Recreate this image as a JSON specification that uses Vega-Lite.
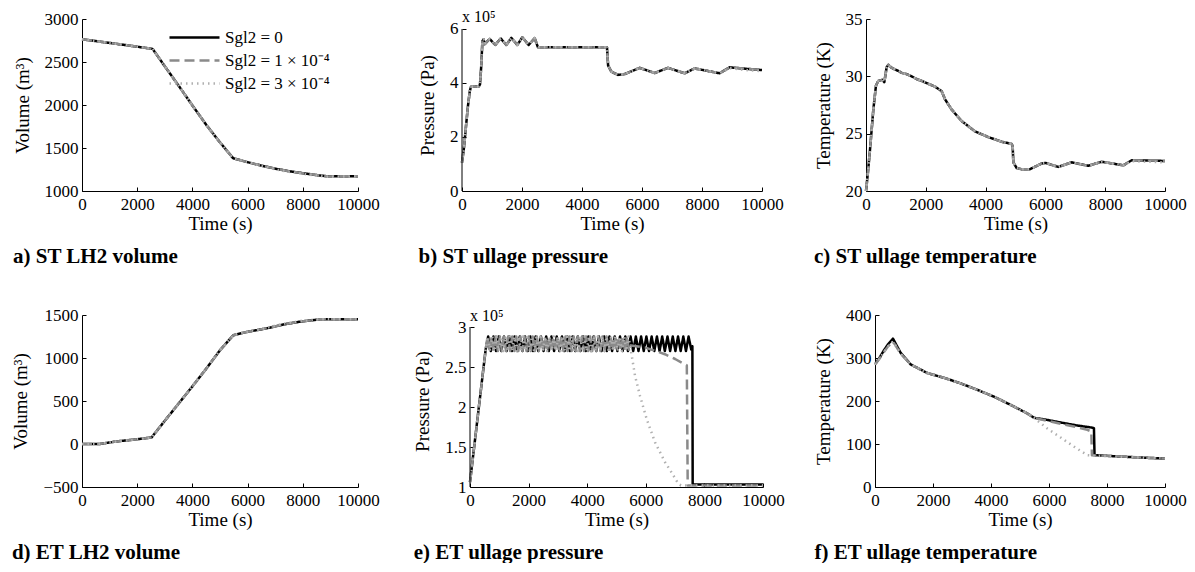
{
"$schema": "https://vega.github.io/schema/vega-lite/v6.json",
"padding": {"left": 11, "top": 8, "right": 0, "bottom": 0},
"background": "white",
"config": {
  "font": "Liberation Serif, Times New Roman, serif",
  "view": {"stroke": null},
  "axis": {"labelFont": "Liberation Serif, Times New Roman, serif", "labelFontSize": 17, "labelColor": "black", "titleFont": "Liberation Serif, Times New Roman, serif", "titleFontSize": 19, "titleFontWeight": "normal", "titleColor": "black", "domainColor": "black", "tickColor": "black", "tickSize": -4, "grid": false, "labelFlush": false, "labelOverlap": false, "labelBound": false},
  "axisX": {"labelPadding": 9, "titlePadding": 2},
  "axisY": {"labelPadding": 8, "titlePadding": 12},
  "title": {"orient": "bottom", "anchor": "start", "frame": "bounds", "font": "Liberation Serif, Times New Roman, serif", "fontSize": 21, "fontWeight": "bold", "color": "black", "offset": 13},
  "legend": {"labelFont": "Liberation Serif, Times New Roman, serif", "labelFontSize": 17, "labelColor": "black", "symbolType": "stroke", "symbolSize": 2500, "rowPadding": 0, "clipHeight": 23, "labelOffset": 4},
  "text": {"font": "Liberation Serif, Times New Roman, serif"},
  "line": {"strokeCap": "butt", "strokeJoin": "round"}
},
"datasets": {
"a": [
{"c":"0","t":0,"v":2765},{"c":"0","t":500,"v":2743},{"c":"0","t":1000,"v":2722},{"c":"0","t":1500,"v":2700},{"c":"0","t":2000,"v":2678},{"c":"0","t":2560,"v":2652},{"c":"0","t":3000,"v":2450},{"c":"0","t":3500,"v":2225},{"c":"0","t":4000,"v":1995},{"c":"0","t":4500,"v":1770},{"c":"0","t":5000,"v":1565},{"c":"0","t":5480,"v":1380},{"c":"0","t":6000,"v":1335},{"c":"0","t":6500,"v":1295},{"c":"0","t":7000,"v":1260},{"c":"0","t":7500,"v":1230},{"c":"0","t":8000,"v":1207},{"c":"0","t":8500,"v":1185},{"c":"0","t":8900,"v":1170},{"c":"0","t":9500,"v":1172},{"c":"0","t":10000,"v":1172},
{"c":"1","t":0,"v":2765},{"c":"1","t":500,"v":2743},{"c":"1","t":1000,"v":2722},{"c":"1","t":1500,"v":2700},{"c":"1","t":2000,"v":2678},{"c":"1","t":2560,"v":2652},{"c":"1","t":3000,"v":2450},{"c":"1","t":3500,"v":2225},{"c":"1","t":4000,"v":1995},{"c":"1","t":4500,"v":1770},{"c":"1","t":5000,"v":1565},{"c":"1","t":5480,"v":1380},{"c":"1","t":6000,"v":1335},{"c":"1","t":6500,"v":1295},{"c":"1","t":7000,"v":1260},{"c":"1","t":7500,"v":1230},{"c":"1","t":8000,"v":1207},{"c":"1","t":8500,"v":1185},{"c":"1","t":8900,"v":1170},{"c":"1","t":9500,"v":1172},{"c":"1","t":10000,"v":1172},
{"c":"3","t":0,"v":2765},{"c":"3","t":500,"v":2743},{"c":"3","t":1000,"v":2722},{"c":"3","t":1500,"v":2700},{"c":"3","t":2000,"v":2678},{"c":"3","t":2560,"v":2652},{"c":"3","t":3000,"v":2450},{"c":"3","t":3500,"v":2225},{"c":"3","t":4000,"v":1995},{"c":"3","t":4500,"v":1770},{"c":"3","t":5000,"v":1565},{"c":"3","t":5480,"v":1380},{"c":"3","t":6000,"v":1335},{"c":"3","t":6500,"v":1293},{"c":"3","t":7000,"v":1252},{"c":"3","t":7500,"v":1223},{"c":"3","t":8000,"v":1200},{"c":"3","t":8500,"v":1179},{"c":"3","t":8900,"v":1166},{"c":"3","t":9500,"v":1168},{"c":"3","t":10000,"v":1170}
],
"b": [
{"c":"0","t":0,"v":1.05},{"c":"0","t":67,"v":1.62},{"c":"0","t":133,"v":2.4},{"c":"0","t":200,"v":3.16},{"c":"0","t":260,"v":3.7},{"c":"0","t":300,"v":3.86},{"c":"0","t":560,"v":3.87},{"c":"0","t":600,"v":3.95},{"c":"0","t":640,"v":4.6},{"c":"0","t":680,"v":5.55},{"c":"0","t":720,"v":5.62},{"c":"0","t":756,"v":5.44},{"c":"0","t":922,"v":5.63},{"c":"0","t":1111,"v":5.41},{"c":"0","t":1289,"v":5.65},{"c":"0","t":1478,"v":5.41},{"c":"0","t":1644,"v":5.67},{"c":"0","t":1844,"v":5.41},{"c":"0","t":2011,"v":5.69},{"c":"0","t":2222,"v":5.41},{"c":"0","t":2422,"v":5.66},{"c":"0","t":2533,"v":5.32},{"c":"0","t":4833,"v":5.32},{"c":"0","t":4870,"v":4.65},{"c":"0","t":4978,"v":4.42},{"c":"0","t":5200,"v":4.3},{"c":"0","t":5422,"v":4.33},{"c":"0","t":5922,"v":4.56},{"c":"0","t":6422,"v":4.37},{"c":"0","t":6867,"v":4.56},{"c":"0","t":7422,"v":4.36},{"c":"0","t":7756,"v":4.54},{"c":"0","t":8589,"v":4.36},{"c":"0","t":8922,"v":4.58},{"c":"0","t":9533,"v":4.52},{"c":"0","t":10000,"v":4.48},
{"c":"1","t":0,"v":1.05},{"c":"1","t":67,"v":1.62},{"c":"1","t":133,"v":2.4},{"c":"1","t":200,"v":3.16},{"c":"1","t":260,"v":3.7},{"c":"1","t":300,"v":3.86},{"c":"1","t":560,"v":3.87},{"c":"1","t":600,"v":3.95},{"c":"1","t":640,"v":4.6},{"c":"1","t":680,"v":5.55},{"c":"1","t":720,"v":5.62},{"c":"1","t":756,"v":5.44},{"c":"1","t":922,"v":5.63},{"c":"1","t":1111,"v":5.41},{"c":"1","t":1289,"v":5.65},{"c":"1","t":1478,"v":5.41},{"c":"1","t":1644,"v":5.67},{"c":"1","t":1844,"v":5.41},{"c":"1","t":2011,"v":5.69},{"c":"1","t":2222,"v":5.41},{"c":"1","t":2422,"v":5.66},{"c":"1","t":2533,"v":5.32},{"c":"1","t":4833,"v":5.32},{"c":"1","t":4870,"v":4.65},{"c":"1","t":4978,"v":4.42},{"c":"1","t":5200,"v":4.3},{"c":"1","t":5422,"v":4.33},{"c":"1","t":5922,"v":4.56},{"c":"1","t":6422,"v":4.37},{"c":"1","t":6867,"v":4.56},{"c":"1","t":7422,"v":4.36},{"c":"1","t":7756,"v":4.54},{"c":"1","t":8589,"v":4.36},{"c":"1","t":8922,"v":4.58},{"c":"1","t":9533,"v":4.52},{"c":"1","t":10000,"v":4.48},
{"c":"3","t":0,"v":1.05},{"c":"3","t":67,"v":1.62},{"c":"3","t":133,"v":2.4},{"c":"3","t":200,"v":3.16},{"c":"3","t":260,"v":3.7},{"c":"3","t":300,"v":3.86},{"c":"3","t":560,"v":3.87},{"c":"3","t":600,"v":3.95},{"c":"3","t":640,"v":4.6},{"c":"3","t":680,"v":5.55},{"c":"3","t":720,"v":5.62},{"c":"3","t":756,"v":5.44},{"c":"3","t":922,"v":5.63},{"c":"3","t":1111,"v":5.41},{"c":"3","t":1289,"v":5.65},{"c":"3","t":1478,"v":5.41},{"c":"3","t":1644,"v":5.67},{"c":"3","t":1844,"v":5.41},{"c":"3","t":2011,"v":5.69},{"c":"3","t":2222,"v":5.41},{"c":"3","t":2422,"v":5.66},{"c":"3","t":2533,"v":5.32},{"c":"3","t":4833,"v":5.32},{"c":"3","t":4870,"v":4.65},{"c":"3","t":4978,"v":4.42},{"c":"3","t":5200,"v":4.3},{"c":"3","t":5422,"v":4.33},{"c":"3","t":5922,"v":4.56},{"c":"3","t":6422,"v":4.37},{"c":"3","t":6867,"v":4.56},{"c":"3","t":7422,"v":4.36},{"c":"3","t":7756,"v":4.54},{"c":"3","t":8589,"v":4.36},{"c":"3","t":8922,"v":4.55},{"c":"3","t":9533,"v":4.47},{"c":"3","t":10000,"v":4.44}
],
"c": [
{"c":"0","t":0,"v":20.0},{"c":"0","t":60,"v":21.5},{"c":"0","t":134,"v":23.6},{"c":"0","t":245,"v":27.1},{"c":"0","t":334,"v":29.2},{"c":"0","t":412,"v":29.6},{"c":"0","t":546,"v":29.7},{"c":"0","t":613,"v":29.5},{"c":"0","t":691,"v":30.8},{"c":"0","t":747,"v":31.0},{"c":"0","t":850,"v":30.75},{"c":"0","t":970,"v":30.6},{"c":"0","t":1100,"v":30.45},{"c":"0","t":1193,"v":30.3},{"c":"0","t":1350,"v":30.2},{"c":"0","t":1527,"v":30.0},{"c":"0","t":1700,"v":29.75},{"c":"0","t":1862,"v":29.6},{"c":"0","t":2085,"v":29.35},{"c":"0","t":2308,"v":29.1},{"c":"0","t":2531,"v":28.7},{"c":"0","t":2642,"v":28.0},{"c":"0","t":2865,"v":27.1},{"c":"0","t":3200,"v":26.1},{"c":"0","t":3645,"v":25.2},{"c":"0","t":4091,"v":24.7},{"c":"0","t":4537,"v":24.3},{"c":"0","t":4872,"v":24.1},{"c":"0","t":4905,"v":23.9},{"c":"0","t":4928,"v":22.5},{"c":"0","t":5040,"v":22.0},{"c":"0","t":5206,"v":21.9},{"c":"0","t":5485,"v":21.9},{"c":"0","t":5875,"v":22.4},{"c":"0","t":6000,"v":22.45},{"c":"0","t":6430,"v":22.1},{"c":"0","t":6878,"v":22.5},{"c":"0","t":7436,"v":22.2},{"c":"0","t":7880,"v":22.55},{"c":"0","t":8606,"v":22.24},{"c":"0","t":8885,"v":22.68},{"c":"0","t":10000,"v":22.62},
{"c":"1","t":0,"v":20.0},{"c":"1","t":60,"v":21.5},{"c":"1","t":134,"v":23.6},{"c":"1","t":245,"v":27.1},{"c":"1","t":334,"v":29.2},{"c":"1","t":412,"v":29.6},{"c":"1","t":546,"v":29.7},{"c":"1","t":613,"v":29.5},{"c":"1","t":691,"v":30.8},{"c":"1","t":747,"v":31.0},{"c":"1","t":850,"v":30.75},{"c":"1","t":970,"v":30.6},{"c":"1","t":1100,"v":30.45},{"c":"1","t":1193,"v":30.3},{"c":"1","t":1350,"v":30.2},{"c":"1","t":1527,"v":30.0},{"c":"1","t":1700,"v":29.75},{"c":"1","t":1862,"v":29.6},{"c":"1","t":2085,"v":29.35},{"c":"1","t":2308,"v":29.1},{"c":"1","t":2531,"v":28.7},{"c":"1","t":2642,"v":28.0},{"c":"1","t":2865,"v":27.1},{"c":"1","t":3200,"v":26.1},{"c":"1","t":3645,"v":25.2},{"c":"1","t":4091,"v":24.7},{"c":"1","t":4537,"v":24.3},{"c":"1","t":4872,"v":24.1},{"c":"1","t":4905,"v":23.9},{"c":"1","t":4928,"v":22.5},{"c":"1","t":5040,"v":22.0},{"c":"1","t":5206,"v":21.9},{"c":"1","t":5485,"v":21.9},{"c":"1","t":5875,"v":22.4},{"c":"1","t":6000,"v":22.45},{"c":"1","t":6430,"v":22.1},{"c":"1","t":6878,"v":22.5},{"c":"1","t":7436,"v":22.2},{"c":"1","t":7880,"v":22.55},{"c":"1","t":8606,"v":22.24},{"c":"1","t":8885,"v":22.68},{"c":"1","t":10000,"v":22.62},
{"c":"3","t":0,"v":20.0},{"c":"3","t":60,"v":21.5},{"c":"3","t":134,"v":23.6},{"c":"3","t":245,"v":27.1},{"c":"3","t":334,"v":29.2},{"c":"3","t":412,"v":29.6},{"c":"3","t":546,"v":29.7},{"c":"3","t":613,"v":29.5},{"c":"3","t":691,"v":30.8},{"c":"3","t":747,"v":31.0},{"c":"3","t":850,"v":30.75},{"c":"3","t":970,"v":30.6},{"c":"3","t":1100,"v":30.45},{"c":"3","t":1193,"v":30.3},{"c":"3","t":1350,"v":30.2},{"c":"3","t":1527,"v":30.0},{"c":"3","t":1700,"v":29.75},{"c":"3","t":1862,"v":29.6},{"c":"3","t":2085,"v":29.35},{"c":"3","t":2308,"v":29.1},{"c":"3","t":2531,"v":28.7},{"c":"3","t":2642,"v":28.0},{"c":"3","t":2865,"v":27.1},{"c":"3","t":3200,"v":26.1},{"c":"3","t":3645,"v":25.2},{"c":"3","t":4091,"v":24.7},{"c":"3","t":4537,"v":24.3},{"c":"3","t":4872,"v":24.1},{"c":"3","t":4905,"v":23.9},{"c":"3","t":4928,"v":22.5},{"c":"3","t":5040,"v":22.0},{"c":"3","t":5206,"v":21.9},{"c":"3","t":5485,"v":21.9},{"c":"3","t":5875,"v":22.4},{"c":"3","t":6000,"v":22.45},{"c":"3","t":6430,"v":22.1},{"c":"3","t":6878,"v":22.5},{"c":"3","t":7436,"v":22.2},{"c":"3","t":7880,"v":22.55},{"c":"3","t":8606,"v":22.24},{"c":"3","t":8885,"v":22.6},{"c":"3","t":10000,"v":22.5}
],
"d": [
{"c":"0","t":0,"v":0},{"c":"0","t":640,"v":0},{"c":"0","t":1250,"v":30},{"c":"0","t":1850,"v":50},{"c":"0","t":2520,"v":76},{"c":"0","t":3000,"v":270},{"c":"0","t":3500,"v":470},{"c":"0","t":4000,"v":670},{"c":"0","t":4500,"v":875},{"c":"0","t":5000,"v":1090},{"c":"0","t":5484,"v":1265},{"c":"0","t":6000,"v":1305},{"c":"0","t":6695,"v":1345},{"c":"0","t":7300,"v":1390},{"c":"0","t":7906,"v":1423},{"c":"0","t":8632,"v":1450},{"c":"0","t":10000,"v":1450},
{"c":"1","t":0,"v":0},{"c":"1","t":640,"v":0},{"c":"1","t":1250,"v":30},{"c":"1","t":1850,"v":50},{"c":"1","t":2520,"v":76},{"c":"1","t":3000,"v":270},{"c":"1","t":3500,"v":470},{"c":"1","t":4000,"v":670},{"c":"1","t":4500,"v":875},{"c":"1","t":5000,"v":1090},{"c":"1","t":5484,"v":1265},{"c":"1","t":6000,"v":1305},{"c":"1","t":6695,"v":1345},{"c":"1","t":7300,"v":1390},{"c":"1","t":7906,"v":1423},{"c":"1","t":8632,"v":1450},{"c":"1","t":10000,"v":1450},
{"c":"3","t":0,"v":0},{"c":"3","t":640,"v":0},{"c":"3","t":1250,"v":30},{"c":"3","t":1850,"v":50},{"c":"3","t":2520,"v":76},{"c":"3","t":3000,"v":270},{"c":"3","t":3500,"v":470},{"c":"3","t":4000,"v":670},{"c":"3","t":4500,"v":875},{"c":"3","t":5000,"v":1090},{"c":"3","t":5484,"v":1265},{"c":"3","t":6000,"v":1308},{"c":"3","t":6695,"v":1352},{"c":"3","t":7300,"v":1398},{"c":"3","t":7906,"v":1430},{"c":"3","t":8632,"v":1452},{"c":"3","t":10000,"v":1452}
],
"e": [
{"c":"0","t":0,"v":1.06},{"c":"0","t":535,"v":2.72},{"c":"0","t":620,"v":2.88},{"c":"0","t":710,"v":2.70},{"c":"0","t":800,"v":2.88},{"c":"0","t":890,"v":2.70},{"c":"0","t":980,"v":2.88},{"c":"0","t":1070,"v":2.70},{"c":"0","t":1160,"v":2.88},{"c":"0","t":1250,"v":2.70},{"c":"0","t":1340,"v":2.88},{"c":"0","t":1430,"v":2.70},{"c":"0","t":1520,"v":2.88},{"c":"0","t":1610,"v":2.70},{"c":"0","t":1700,"v":2.88},{"c":"0","t":1790,"v":2.70},{"c":"0","t":1880,"v":2.88},{"c":"0","t":1970,"v":2.70},{"c":"0","t":2060,"v":2.88},{"c":"0","t":2150,"v":2.70},{"c":"0","t":2240,"v":2.88},{"c":"0","t":2330,"v":2.70},{"c":"0","t":2420,"v":2.88},{"c":"0","t":2510,"v":2.70},{"c":"0","t":2600,"v":2.88},{"c":"0","t":2690,"v":2.70},{"c":"0","t":2780,"v":2.88},{"c":"0","t":2870,"v":2.70},{"c":"0","t":2960,"v":2.88},{"c":"0","t":3050,"v":2.70},{"c":"0","t":3140,"v":2.88},{"c":"0","t":3230,"v":2.70},{"c":"0","t":3320,"v":2.88},{"c":"0","t":3410,"v":2.70},{"c":"0","t":3500,"v":2.88},{"c":"0","t":3590,"v":2.70},{"c":"0","t":3680,"v":2.88},{"c":"0","t":3770,"v":2.70},{"c":"0","t":3860,"v":2.88},{"c":"0","t":3950,"v":2.70},{"c":"0","t":4040,"v":2.88},{"c":"0","t":4130,"v":2.70},{"c":"0","t":4220,"v":2.88},{"c":"0","t":4310,"v":2.70},{"c":"0","t":4400,"v":2.88},{"c":"0","t":4490,"v":2.70},{"c":"0","t":4580,"v":2.88},{"c":"0","t":4670,"v":2.70},{"c":"0","t":4760,"v":2.88},{"c":"0","t":4850,"v":2.70},{"c":"0","t":4940,"v":2.88},{"c":"0","t":5030,"v":2.70},{"c":"0","t":5120,"v":2.88},{"c":"0","t":5210,"v":2.70},{"c":"0","t":5300,"v":2.88},{"c":"0","t":5390,"v":2.70},{"c":"0","t":5480,"v":2.88},{"c":"0","t":5570,"v":2.70},{"c":"0","t":5660,"v":2.88},{"c":"0","t":5750,"v":2.70},{"c":"0","t":5840,"v":2.88},{"c":"0","t":5930,"v":2.70},{"c":"0","t":6020,"v":2.88},{"c":"0","t":6110,"v":2.70},{"c":"0","t":6200,"v":2.88},{"c":"0","t":6290,"v":2.70},{"c":"0","t":6380,"v":2.88},{"c":"0","t":6470,"v":2.70},{"c":"0","t":6560,"v":2.88},{"c":"0","t":6650,"v":2.70},{"c":"0","t":6740,"v":2.88},{"c":"0","t":6830,"v":2.70},{"c":"0","t":6920,"v":2.88},{"c":"0","t":7010,"v":2.70},{"c":"0","t":7100,"v":2.88},{"c":"0","t":7190,"v":2.70},{"c":"0","t":7280,"v":2.88},{"c":"0","t":7370,"v":2.70},{"c":"0","t":7460,"v":2.88},{"c":"0","t":7550,"v":2.72},{"c":"0","t":7590,"v":2.76},{"c":"0","t":7600,"v":1.03},{"c":"0","t":10000,"v":1.03},
{"c":"1","t":0,"v":1.06},{"c":"1","t":535,"v":2.72},{"c":"1","t":600,"v":2.88},{"c":"1","t":670,"v":2.70},{"c":"1","t":740,"v":2.88},{"c":"1","t":810,"v":2.70},{"c":"1","t":880,"v":2.88},{"c":"1","t":950,"v":2.70},{"c":"1","t":1020,"v":2.88},{"c":"1","t":1090,"v":2.70},{"c":"1","t":1160,"v":2.88},{"c":"1","t":1230,"v":2.70},{"c":"1","t":1300,"v":2.88},{"c":"1","t":1370,"v":2.70},{"c":"1","t":1440,"v":2.88},{"c":"1","t":1510,"v":2.70},{"c":"1","t":1580,"v":2.88},{"c":"1","t":1650,"v":2.70},{"c":"1","t":1720,"v":2.88},{"c":"1","t":1790,"v":2.70},{"c":"1","t":1860,"v":2.88},{"c":"1","t":1930,"v":2.70},{"c":"1","t":2000,"v":2.88},{"c":"1","t":2070,"v":2.70},{"c":"1","t":2140,"v":2.88},{"c":"1","t":2210,"v":2.70},{"c":"1","t":2280,"v":2.88},{"c":"1","t":2350,"v":2.70},{"c":"1","t":2420,"v":2.88},{"c":"1","t":2490,"v":2.70},{"c":"1","t":2560,"v":2.88},{"c":"1","t":2630,"v":2.70},{"c":"1","t":2700,"v":2.88},{"c":"1","t":2770,"v":2.70},{"c":"1","t":2840,"v":2.88},{"c":"1","t":2910,"v":2.70},{"c":"1","t":2980,"v":2.88},{"c":"1","t":3050,"v":2.70},{"c":"1","t":3120,"v":2.88},{"c":"1","t":3190,"v":2.70},{"c":"1","t":3260,"v":2.88},{"c":"1","t":3330,"v":2.70},{"c":"1","t":3400,"v":2.88},{"c":"1","t":3470,"v":2.70},{"c":"1","t":3540,"v":2.88},{"c":"1","t":3610,"v":2.70},{"c":"1","t":3680,"v":2.88},{"c":"1","t":3750,"v":2.70},{"c":"1","t":3820,"v":2.88},{"c":"1","t":3890,"v":2.70},{"c":"1","t":3960,"v":2.88},{"c":"1","t":4030,"v":2.70},{"c":"1","t":4100,"v":2.88},{"c":"1","t":4170,"v":2.70},{"c":"1","t":4240,"v":2.88},{"c":"1","t":4310,"v":2.70},{"c":"1","t":4380,"v":2.88},{"c":"1","t":4450,"v":2.70},{"c":"1","t":4520,"v":2.88},{"c":"1","t":4590,"v":2.70},{"c":"1","t":4660,"v":2.88},{"c":"1","t":4730,"v":2.70},{"c":"1","t":4800,"v":2.88},{"c":"1","t":4870,"v":2.70},{"c":"1","t":4940,"v":2.88},{"c":"1","t":5010,"v":2.70},{"c":"1","t":5080,"v":2.88},{"c":"1","t":5150,"v":2.70},{"c":"1","t":5220,"v":2.88},{"c":"1","t":5290,"v":2.70},{"c":"1","t":5360,"v":2.88},{"c":"1","t":5430,"v":2.70},{"c":"1","t":5500,"v":2.77},{"c":"1","t":5970,"v":2.745},{"c":"1","t":6650,"v":2.66},{"c":"1","t":7000,"v":2.6},{"c":"1","t":7400,"v":2.52},{"c":"1","t":7430,"v":1.02},{"c":"1","t":10000,"v":1.02},
{"c":"3","t":0,"v":1.06},{"c":"3","t":535,"v":2.72},{"c":"3","t":610,"v":2.88},{"c":"3","t":685,"v":2.70},{"c":"3","t":760,"v":2.88},{"c":"3","t":835,"v":2.70},{"c":"3","t":910,"v":2.88},{"c":"3","t":985,"v":2.70},{"c":"3","t":1060,"v":2.88},{"c":"3","t":1135,"v":2.70},{"c":"3","t":1210,"v":2.88},{"c":"3","t":1285,"v":2.70},{"c":"3","t":1360,"v":2.88},{"c":"3","t":1435,"v":2.70},{"c":"3","t":1510,"v":2.88},{"c":"3","t":1585,"v":2.70},{"c":"3","t":1660,"v":2.88},{"c":"3","t":1735,"v":2.70},{"c":"3","t":1810,"v":2.88},{"c":"3","t":1885,"v":2.70},{"c":"3","t":1960,"v":2.88},{"c":"3","t":2035,"v":2.70},{"c":"3","t":2110,"v":2.88},{"c":"3","t":2185,"v":2.70},{"c":"3","t":2260,"v":2.88},{"c":"3","t":2335,"v":2.70},{"c":"3","t":2410,"v":2.88},{"c":"3","t":2485,"v":2.70},{"c":"3","t":2560,"v":2.88},{"c":"3","t":2635,"v":2.70},{"c":"3","t":2710,"v":2.88},{"c":"3","t":2785,"v":2.70},{"c":"3","t":2860,"v":2.88},{"c":"3","t":2935,"v":2.70},{"c":"3","t":3010,"v":2.88},{"c":"3","t":3085,"v":2.70},{"c":"3","t":3160,"v":2.88},{"c":"3","t":3235,"v":2.70},{"c":"3","t":3310,"v":2.88},{"c":"3","t":3385,"v":2.70},{"c":"3","t":3460,"v":2.88},{"c":"3","t":3535,"v":2.70},{"c":"3","t":3610,"v":2.88},{"c":"3","t":3685,"v":2.70},{"c":"3","t":3760,"v":2.88},{"c":"3","t":3835,"v":2.70},{"c":"3","t":3910,"v":2.88},{"c":"3","t":3985,"v":2.70},{"c":"3","t":4060,"v":2.88},{"c":"3","t":4135,"v":2.70},{"c":"3","t":4210,"v":2.88},{"c":"3","t":4285,"v":2.70},{"c":"3","t":4360,"v":2.88},{"c":"3","t":4435,"v":2.70},{"c":"3","t":4510,"v":2.88},{"c":"3","t":4585,"v":2.70},{"c":"3","t":4660,"v":2.88},{"c":"3","t":4735,"v":2.70},{"c":"3","t":4810,"v":2.88},{"c":"3","t":4885,"v":2.70},{"c":"3","t":4960,"v":2.88},{"c":"3","t":5035,"v":2.70},{"c":"3","t":5110,"v":2.88},{"c":"3","t":5185,"v":2.70},{"c":"3","t":5260,"v":2.88},{"c":"3","t":5335,"v":2.70},{"c":"3","t":5410,"v":2.88},{"c":"3","t":5484,"v":2.725},{"c":"3","t":5632,"v":2.39},{"c":"3","t":5802,"v":2.14},{"c":"3","t":6030,"v":1.85},{"c":"3","t":6314,"v":1.56},{"c":"3","t":6656,"v":1.31},{"c":"3","t":6883,"v":1.18},{"c":"3","t":7110,"v":1.04},{"c":"3","t":7200,"v":1.02},{"c":"3","t":10000,"v":1.02}
],
"f": [
{"c":"0","t":0,"v":285},{"c":"0","t":150,"v":300},{"c":"0","t":310,"v":318},{"c":"0","t":450,"v":332},{"c":"0","t":620,"v":345},{"c":"0","t":700,"v":335},{"c":"0","t":885,"v":312},{"c":"0","t":1230,"v":285},{"c":"0","t":1805,"v":265},{"c":"0","t":2379,"v":254},{"c":"0","t":2954,"v":241},{"c":"0","t":3529,"v":226},{"c":"0","t":4103,"v":210},{"c":"0","t":4678,"v":191},{"c":"0","t":5253,"v":171},{"c":"0","t":5483,"v":161},{"c":"0","t":5943,"v":156},{"c":"0","t":6402,"v":150},{"c":"0","t":6977,"v":143},{"c":"0","t":7494,"v":138},{"c":"0","t":7550,"v":137},{"c":"0","t":7570,"v":74},{"c":"0","t":8701,"v":70},{"c":"0","t":10000,"v":66},
{"c":"1","t":0,"v":285},{"c":"1","t":150,"v":298},{"c":"1","t":310,"v":314},{"c":"1","t":450,"v":327},{"c":"1","t":620,"v":338},{"c":"1","t":700,"v":330},{"c":"1","t":885,"v":310},{"c":"1","t":1230,"v":285},{"c":"1","t":1805,"v":265},{"c":"1","t":2379,"v":254},{"c":"1","t":2954,"v":241},{"c":"1","t":3529,"v":226},{"c":"1","t":4103,"v":210},{"c":"1","t":4678,"v":191},{"c":"1","t":5253,"v":171},{"c":"1","t":5483,"v":161},{"c":"1","t":5943,"v":154},{"c":"1","t":6402,"v":147},{"c":"1","t":6977,"v":139},{"c":"1","t":7322,"v":133},{"c":"1","t":7460,"v":129},{"c":"1","t":7480,"v":74},{"c":"1","t":8701,"v":70},{"c":"1","t":10000,"v":66},
{"c":"3","t":0,"v":285},{"c":"3","t":150,"v":298},{"c":"3","t":310,"v":314},{"c":"3","t":450,"v":327},{"c":"3","t":620,"v":338},{"c":"3","t":700,"v":330},{"c":"3","t":885,"v":310},{"c":"3","t":1230,"v":285},{"c":"3","t":1805,"v":265},{"c":"3","t":2379,"v":254},{"c":"3","t":2954,"v":241},{"c":"3","t":3529,"v":226},{"c":"3","t":4103,"v":210},{"c":"3","t":4678,"v":191},{"c":"3","t":5253,"v":171},{"c":"3","t":5483,"v":161},{"c":"3","t":5943,"v":136},{"c":"3","t":6402,"v":115},{"c":"3","t":6862,"v":94},{"c":"3","t":7322,"v":74},{"c":"3","t":7500,"v":73},{"c":"3","t":8701,"v":70},{"c":"3","t":10000,"v":66}
]
},
"vconcat": [
{"hconcat": [
 {"width": 276, "height": 172, "title": "a) ST LH2 volume", "data": {"name": "a"},
  "mark": "line",
  "encoding": {
   "x": {"field": "t", "type": "quantitative", "scale": {"domain": [0, 10000], "nice": false}, "axis": {"values": [0,2000,4000,6000,8000,10000], "format": "d", "title": "Time (s)"}},
   "y": {"field": "v", "type": "quantitative", "scale": {"domain": [1000, 3000], "nice": false, "zero": false}, "axis": {"values": [1000,1500,2000,2500,3000], "format": "d", "title": "Volume (m³)"}},
   "color": {"field": "c", "type": "nominal", "scale": {"domain": ["0","1","3"], "range": ["#000000","#8a8a8a","#b0b0b0"]}, "legend": {"orient": "none", "legendX": 86, "legendY": 7, "title": null, "labelExpr": "datum.value == '0' ? 'Sgl2 = 0' : datum.value == '1' ? 'Sgl2 = 1 × 10⁻⁴' : 'Sgl2 = 3 × 10⁻⁴'"}},
   "strokeDash": {"field": "c", "type": "nominal", "scale": {"domain": ["0","1","3"], "range": [[1,0],[10,5],[1.5,4]]}},
   "strokeWidth": {"field": "c", "type": "nominal", "scale": {"domain": ["0","1","3"], "range": [2.5,2.5,1.5]}}
  }},
 {"width": 300, "height": 172, "title": "b) ST ullage pressure",
  "layer": [
   {"data": {"name": "b"}, "mark": "line",
    "encoding": {
     "x": {"field": "t", "type": "quantitative", "scale": {"domain": [0, 10000], "nice": false}, "axis": {"values": [0,2000,4000,6000,8000,10000], "format": "d", "title": "Time (s)"}},
     "y": {"field": "v", "type": "quantitative", "scale": {"domain": [0, 6.37], "nice": false}, "axis": {"values": [0,2,4,6], "format": "d", "title": "Pressure (Pa)", "domain": false}},
     "color": {"field": "c", "type": "nominal", "scale": {"domain": ["0","1","3"], "range": ["#000000","#8a8a8a","#b0b0b0"]}, "legend": {"orient": "none", "legendX": 86, "legendY": 7, "title": null, "labelExpr": "datum.value == '0' ? 'Sgl2 = 0' : datum.value == '1' ? 'Sgl2 = 1 × 10⁻⁴' : 'Sgl2 = 3 × 10⁻⁴'"}},
     "strokeDash": {"field": "c", "type": "nominal", "scale": {"domain": ["0","1","3"], "range": [[1,0],[10,5],[1.5,4]]}},
     "strokeWidth": {"field": "c", "type": "nominal", "scale": {"domain": ["0","1","3"], "range": [2.5,2.5,1.5]}}
    }},
   {"data": {"values": [{}]}, "mark": {"type": "rule", "color": "black", "strokeWidth": 1}, "encoding": {"x": {"datum": 0}, "y": {"datum": 0}, "y2": {"datum": 6}}},
   {"data": {"values": [{}]}, "mark": {"type": "text", "align": "left", "baseline": "alphabetic", "dy": -7, "fontSize": 16, "color": "black"}, "encoding": {"x": {"datum": 0}, "y": {"datum": 6}, "text": {"value": "x 10⁵"}}}
  ]},
 {"width": 299, "height": 172, "title": "c) ST ullage temperature", "data": {"name": "c"},
  "mark": "line",
  "encoding": {
   "x": {"field": "t", "type": "quantitative", "scale": {"domain": [0, 10000], "nice": false}, "axis": {"values": [0,2000,4000,6000,8000,10000], "format": "d", "title": "Time (s)"}},
   "y": {"field": "v", "type": "quantitative", "scale": {"domain": [20, 35], "nice": false, "zero": false}, "axis": {"values": [20,25,30,35], "format": "d", "title": "Temperature (K)"}},
   "color": {"field": "c", "type": "nominal", "scale": {"domain": ["0","1","3"], "range": ["#000000","#8a8a8a","#b0b0b0"]}, "legend": {"orient": "none", "legendX": 86, "legendY": 7, "title": null, "labelExpr": "datum.value == '0' ? 'Sgl2 = 0' : datum.value == '1' ? 'Sgl2 = 1 × 10⁻⁴' : 'Sgl2 = 3 × 10⁻⁴'"}},
   "strokeDash": {"field": "c", "type": "nominal", "scale": {"domain": ["0","1","3"], "range": [[1,0],[10,5],[1.5,4]]}},
   "strokeWidth": {"field": "c", "type": "nominal", "scale": {"domain": ["0","1","3"], "range": [2.5,2.5,1.5]}}
  }}
 ], "spacing": 104, "bounds": "flush"},
{"hconcat": [
 {"width": 276, "height": 172, "title": "d) ET LH2 volume", "data": {"name": "d"},
  "mark": "line",
  "encoding": {
   "x": {"field": "t", "type": "quantitative", "scale": {"domain": [0, 10000], "nice": false}, "axis": {"values": [0,2000,4000,6000,8000,10000], "format": "d", "title": "Time (s)"}},
   "y": {"field": "v", "type": "quantitative", "scale": {"domain": [-500, 1500], "nice": false, "zero": false}, "axis": {"values": [-500,0,500,1000,1500], "format": "d", "title": "Volume (m³)"}},
   "color": {"field": "c", "type": "nominal", "scale": {"domain": ["0","1","3"], "range": ["#000000","#8a8a8a","#b0b0b0"]}, "legend": {"orient": "none", "legendX": 86, "legendY": 7, "title": null, "labelExpr": "datum.value == '0' ? 'Sgl2 = 0' : datum.value == '1' ? 'Sgl2 = 1 × 10⁻⁴' : 'Sgl2 = 3 × 10⁻⁴'"}},
   "strokeDash": {"field": "c", "type": "nominal", "scale": {"domain": ["0","1","3"], "range": [[1,0],[10,5],[1.5,4]]}},
   "strokeWidth": {"field": "c", "type": "nominal", "scale": {"domain": ["0","1","3"], "range": [2.5,2.5,1.5]}}
  }},
 {"width": 293, "height": 172, "title": "e) ET ullage pressure",
  "layer": [
   {"data": {"name": "e"}, "mark": "line",
    "encoding": {
     "x": {"field": "t", "type": "quantitative", "scale": {"domain": [0, 10000], "nice": false}, "axis": {"values": [0,2000,4000,6000,8000,10000], "format": "d", "title": "Time (s)"}},
     "y": {"field": "v", "type": "quantitative", "scale": {"domain": [1, 3.15], "nice": false, "zero": false}, "axis": {"values": [1,1.5,2,2.5,3], "format": "~g", "title": "Pressure (Pa)", "domain": false}},
     "color": {"field": "c", "type": "nominal", "scale": {"domain": ["0","1","3"], "range": ["#000000","#8a8a8a","#b0b0b0"]}, "legend": {"orient": "none", "legendX": 86, "legendY": 7, "title": null, "labelExpr": "datum.value == '0' ? 'Sgl2 = 0' : datum.value == '1' ? 'Sgl2 = 1 × 10⁻⁴' : 'Sgl2 = 3 × 10⁻⁴'"}},
     "strokeDash": {"field": "c", "type": "nominal", "scale": {"domain": ["0","1","3"], "range": [[1,0],[10,5],[1.5,4]]}},
     "strokeWidth": {"field": "c", "type": "nominal", "scale": {"domain": ["0","1","3"], "range": [2.5,2.5,1.5]}}
    }},
   {"data": {"values": [{}]}, "mark": {"type": "rule", "color": "black", "strokeWidth": 1}, "encoding": {"x": {"datum": 0}, "y": {"datum": 1}, "y2": {"datum": 3}}},
   {"data": {"values": [{}]}, "mark": {"type": "text", "align": "left", "baseline": "alphabetic", "dy": -6, "fontSize": 16, "color": "black"}, "encoding": {"x": {"datum": 0}, "y": {"datum": 3}, "text": {"value": "x 10⁵"}}}
  ]},
 {"width": 290, "height": 172, "title": "f) ET ullage temperature", "data": {"name": "f"},
  "mark": "line",
  "encoding": {
   "x": {"field": "t", "type": "quantitative", "scale": {"domain": [0, 10000], "nice": false}, "axis": {"values": [0,2000,4000,6000,8000,10000], "format": "d", "title": "Time (s)"}},
   "y": {"field": "v", "type": "quantitative", "scale": {"domain": [0, 400], "nice": false}, "axis": {"values": [0,100,200,300,400], "format": "d", "title": "Temperature (K)"}},
   "color": {"field": "c", "type": "nominal", "scale": {"domain": ["0","1","3"], "range": ["#000000","#8a8a8a","#b0b0b0"]}, "legend": {"orient": "none", "legendX": 86, "legendY": 7, "title": null, "labelExpr": "datum.value == '0' ? 'Sgl2 = 0' : datum.value == '1' ? 'Sgl2 = 1 × 10⁻⁴' : 'Sgl2 = 3 × 10⁻⁴'"}},
   "strokeDash": {"field": "c", "type": "nominal", "scale": {"domain": ["0","1","3"], "range": [[1,0],[10,5],[1.5,4]]}},
   "strokeWidth": {"field": "c", "type": "nominal", "scale": {"domain": ["0","1","3"], "range": [2.5,2.5,1.5]}}
  }}
 ], "spacing": 112, "bounds": "flush"}
],
"spacing": 296,
"bounds": "flush"
}
